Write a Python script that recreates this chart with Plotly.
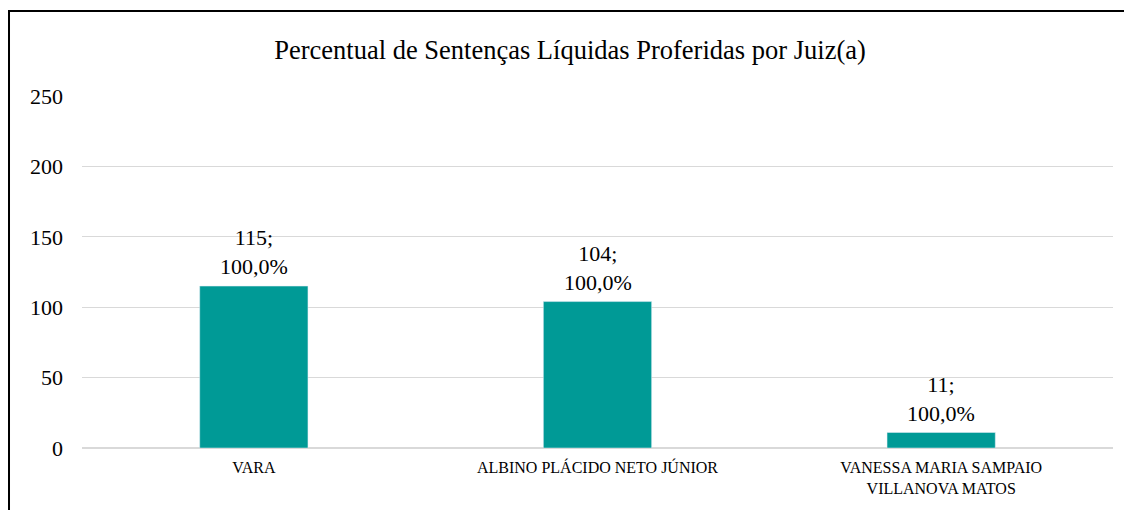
import plotly.graph_objects as go

judges = ["VARA", "ALBINO PLÁCIDO NETO JÚNIOR", "VANESSA MARIA SAMPAIO<br>VILLANOVA MATOS"]
sentences = [115, 104, 11]
percents = ["100,0%", "100,0%", "100,0%"]

TEAL = "#009A96"
FONT = "Liberation Serif"

labels = [f"{v};<br>{p}" for v, p in zip(sentences, percents)]

fig = go.Figure(
    go.Bar(
        x=judges,
        y=sentences,
        marker_color=TEAL,
        cliponaxis=False,
    )
)

# data labels above the bars
for j, v, lab in zip(judges, sentences, labels):
    fig.add_annotation(
        x=j, y=v, text=lab, showarrow=False,
        yanchor="bottom", yshift=5,
        font=dict(size=22, family=FONT, color="#000000"),
    )

# page body adds 8px margin, so keep the figure inside the window
fig.update_layout(
    width=1124,
    height=502,
    margin=dict(l=74, r=19, t=88, b=62),
    plot_bgcolor="white",
    paper_bgcolor="white",
    bargap=0.685,
    showlegend=False,
    font=dict(family=FONT, color="#000000"),
    title=dict(
        text="Percentual de Sentenças Líquidas Proferidas por Juiz(a)",
        x=0.5,
        xanchor="center",
        y=0.917,
        yanchor="middle",
        font=dict(size=26.5, family=FONT, color="#000000"),
    ),
    shapes=[
        dict(
            type="rect",
            xref="paper",
            yref="paper",
            x0=-0.0708,
            x1=1.0165,
            y0=-0.25,
            y1=1.2415,
            line=dict(color="black", width=2),
        )
    ],
)

fig.update_yaxes(
    range=[0, 250],
    dtick=50,
    showgrid=True,
    gridcolor="#D9D9D9",
    gridwidth=1,
    zeroline=True,
    zerolinecolor="#D9D9D9",
    tickfont=dict(size=22, family=FONT),
    ticklabelstandoff=18,
    showline=False,
)
fig.update_xaxes(
    tickfont=dict(size=16, family=FONT),
    ticklabelstandoff=8,
    showline=False,
    ticks="",
)

fig.write_html("out.html")
